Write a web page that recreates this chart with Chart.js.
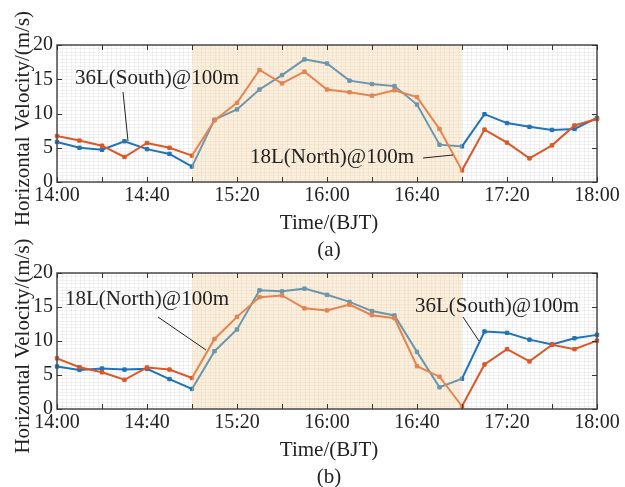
<!DOCTYPE html>
<html><head><meta charset="utf-8">
<script src="https://cdn.jsdelivr.net/npm/chart.js@4"></script>
<style>
html,body{margin:0;padding:0;background:#fff;}
#wrap{position:relative;width:625px;height:487px;}
canvas{position:absolute;left:0;top:0;}
</style>
</head><body>
<div id="wrap"><canvas id="ca" width="625" height="487"></canvas><canvas id="cb" width="625" height="487"></canvas></div>
<script>
const times = ['14:00','14:10','14:20','14:30','14:40','14:50','15:00','15:10','15:20','15:30','15:40','15:50','16:00','16:10','16:20','16:30','16:40','16:50','17:00','17:10','17:20','17:30','17:40','17:50','18:00'];
const tickLabels = ['14:00','14:40','15:20','16:00','16:40','17:20','18:00'];
const yTicks = [0,5,10,15,20];
const southA = [5.85,5.0,4.7,5.95,4.8,4.1,2.25,9.1,10.6,13.5,15.6,17.9,17.3,14.8,14.3,14.0,11.3,5.45,5.2,9.9,8.6,8.05,7.6,7.75,9.35];
const northA = [6.7,6.05,5.3,3.65,5.7,5.0,3.85,9.0,11.55,16.35,14.4,16.1,13.5,13.1,12.6,13.4,12.4,7.75,1.7,7.65,5.75,3.45,5.35,8.25,9.2];
const southB = [6.25,5.75,5.95,5.8,5.9,4.4,2.95,8.5,11.7,17.45,17.3,17.7,16.8,15.75,14.4,13.75,8.4,3.2,4.45,11.4,11.2,10.2,9.5,10.4,10.9];
const northB = [7.45,6.15,5.4,4.3,6.1,5.8,4.55,10.3,13.55,16.45,16.7,14.8,14.5,15.35,13.8,13.35,6.3,4.75,0.4,6.55,8.8,7.0,9.45,8.8,10.05];
const shadeFrom = '15:00', shadeTo = '17:00';
const southName = '36L(South)@100m', northName = '18L(North)@100m';
const yTitle = 'Horizontal Velocity/(m/s)', xTitle = 'Time/(BJT)';

const BLUE = '#2074B6', ORANGE = '#D9582A';
const FONT = '"Liberation Serif", "Times New Roman", serif';

function panelPlugin(label, notes) {
  return {
    id: 'panel',
    beforeDatasetsDraw(chart) {
      const {ctx, chartArea: a, scales: {x, y}} = chart;
      ctx.save();
      ctx.strokeStyle = 'rgba(0,0,0,0.05)';
      ctx.lineWidth = 1;
      ctx.beginPath();
      const n = times.length - 1;
      for (let i = 0; i <= n * 5; i++) {
        const px = Math.round(x.getPixelForValue(i / 5)) + 0.5;
        ctx.moveTo(px, a.top); ctx.lineTo(px, a.bottom);
      }
      for (let v = 0; v <= 20; v += 0.5) {
        const py = Math.round(y.getPixelForValue(v)) + 0.5;
        ctx.moveTo(a.left, py); ctx.lineTo(a.right, py);
      }
      ctx.stroke();
      ctx.restore();
    },
    afterDatasetsDraw(chart) {
      const {ctx, chartArea: a, scales: {x, y}} = chart;
      ctx.save();
      const x0 = x.getPixelForValue(times.indexOf(shadeFrom));
      const x1 = x.getPixelForValue(times.indexOf(shadeTo));
      ctx.fillStyle = 'rgba(243,212,155,0.36)';
      ctx.fillRect(x0, a.top, x1 - x0, a.bottom - a.top);
      ctx.strokeStyle = '#4a4a4a';
      ctx.lineWidth = 1.5;
      ctx.strokeRect(a.left, a.top, a.right - a.left, a.bottom - a.top);
      ctx.strokeStyle = '#333';
      ctx.lineWidth = 1;
      ctx.beginPath();
      for (let i = 0; i < times.length; i += 2) {
        const px = Math.round(x.getPixelForValue(i)) + 0.5;
        ctx.moveTo(px, a.bottom); ctx.lineTo(px, a.bottom - 5);
        ctx.moveTo(px, a.top); ctx.lineTo(px, a.top + 5);
      }
      yTicks.forEach(v => {
        const py = Math.round(y.getPixelForValue(v)) + 0.5;
        ctx.moveTo(a.left, py); ctx.lineTo(a.left + 5, py);
        ctx.moveTo(a.right, py); ctx.lineTo(a.right - 5, py);
      });
      ctx.stroke();
      ctx.fillStyle = '#222';
      ctx.font = '21px ' + FONT;
      ctx.textBaseline = 'middle';
      ctx.textAlign = 'left';
      notes.forEach(nt => {
        ctx.fillText(nt.text, a.left + nt.tx, a.top + nt.ty);
        ctx.beginPath();
        ctx.strokeStyle = '#222';
        ctx.lineWidth = 1;
        ctx.moveTo(a.left + nt.l[0], a.top + nt.l[1]);
        ctx.lineTo(a.left + nt.l[2], a.top + nt.l[3]);
        ctx.stroke();
      });
      ctx.textAlign = 'center';
      const cx = (a.left + a.right) / 2;
      ctx.fillText(xTitle, cx + 2, a.bottom + 41);
      ctx.fillText(label, cx + 2, a.bottom + 68);
      ctx.translate(23, (a.top + a.bottom) / 2 + 5);
      ctx.rotate(-Math.PI / 2);
      ctx.fillText(yTitle, 0, 0);
      ctx.restore();
    }
  };
}

function makeChart(id, south, north, padTop, padBottom, label, notes) {
  return new Chart(document.getElementById(id), {
    type: 'line',
    data: {
      labels: times,
      datasets: [
        {label: northName, data: north, borderColor: ORANGE, backgroundColor: ORANGE, borderWidth: 2, pointStyle: 'rect', pointRadius: 2.4, pointBorderWidth: 1, tension: 0},
        {label: southName, data: south, borderColor: BLUE, backgroundColor: BLUE, borderWidth: 2, pointStyle: 'rect', pointRadius: 2.4, pointBorderWidth: 1, tension: 0}
      ]
    },
    options: {
      responsive: false,
      animation: false,
      devicePixelRatio: 1,
      layout: {padding: {left: 0, right: 28, top: padTop, bottom: padBottom}},
      plugins: {legend: {display: false}, tooltip: {enabled: false}},
      scales: {
        x: {
          type: 'category',
          offset: false,
          grid: {display: false, drawTicks: false},
          border: {display: false},
          ticks: {
            autoSkip: false, maxRotation: 0, padding: 2, color: '#222',
            font: {family: FONT, size: 20},
            callback: (v, i) => tickLabels.includes(times[i]) ? times[i] : ''
          },
          afterFit: s => { s.height = 30; }
        },
        y: {
          min: 0, max: 20,
          grid: {display: false, drawTicks: false},
          border: {display: false},
          ticks: {stepSize: 5, padding: 4, color: '#222', font: {family: FONT, size: 20}},
          afterFit: s => { s.width = 57; }
        }
      }
    },
    plugins: [panelPlugin(label, notes)]
  });
}

makeChart('ca', southA, northA, 45, 275, '(a)', [
  {text: southName, tx: 18, ty: 33, l: [66, 47, 71, 96]},
  {text: northName, tx: 193, ty: 112, l: [366, 113, 396, 110]}
]);
makeChart('cb', southB, northB, 273, 48, '(b)', [
  {text: northName, tx: 8, ty: 26, l: [101, 44, 149, 77]},
  {text: southName, tx: 358, ty: 33, l: [406, 44, 422, 68]}
]);
</script>
</body></html>
